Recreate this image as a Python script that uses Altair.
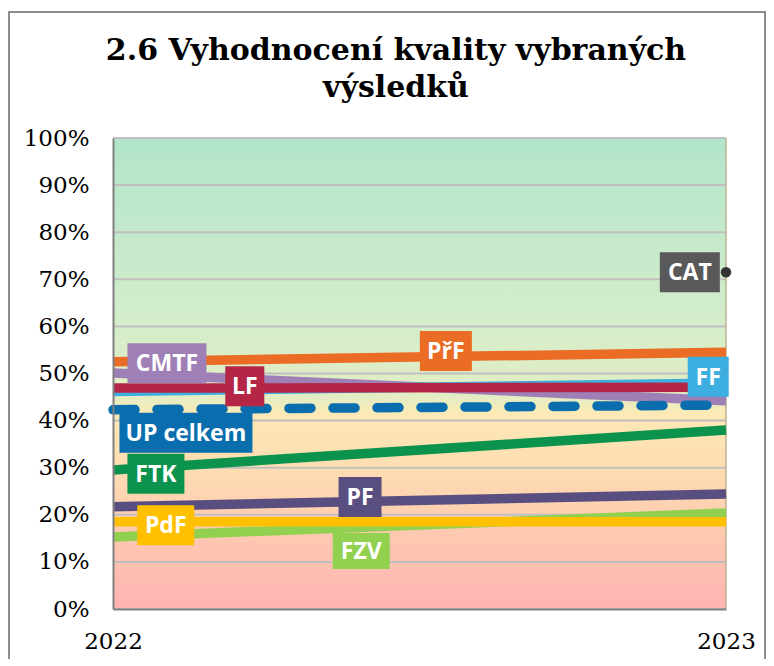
import altair as alt
import pandas as pd

# ---------------- data ----------------
years = [2022, 2023]
cmtf = [50.1, 44.2]
ff = [46.2, 48.0]
ftk = [29.5, 38.0]
fzv = [15.3, 20.4]
lf = [46.9, 47.1]
pdf_vals = [18.5, 18.5]
pf = [21.7, 24.4]
prf = [52.5, 54.5]
up_celkem = [42.3, 43.3]
cat_years = [2023]
cat_vals = [71.5]
y_ticks = [0, 10, 20, 30, 40, 50, 60, 70, 80, 90, 100]
x_ticks = [2022, 2023]
title_lines = ["2.6 Vyhodnocení kvality vybraných", "výsledků"]

# ---------------- styles ----------------
W, H = 613, 471
colors = {
    "CMTF": "#9F80B6", "FF": "#3DAEE0", "FTK": "#0B934D", "FZV": "#92D050",
    "LF": "#B52646", "PdF": "#FFC000", "PF": "#584F80", "PřF": "#EA6C25",
    "UP celkem": "#0A6EAE", "CAT": "#595959",
}
series = [("CMTF", cmtf), ("FF", ff), ("FTK", ftk), ("FZV", fzv), ("LF", lf),
          ("PdF", pdf_vals), ("PF", pf), ("PřF", prf), ("UP celkem", up_celkem)]

# label layout (anchor in axis units, box size in px)
label_layout = [
    ("CMTF", 2022.088, 52.2, 79, 40),
    ("LF", 2022.215, 47.3, 39, 40),
    ("UP celkem", 2022.119, 37.4, 133, 40),
    ("FTK", 2022.070, 28.7, 57, 40),
    ("PdF", 2022.086, 17.8, 57, 40),
    ("PF", 2022.403, 23.8, 43, 40),
    ("FZV", 2022.405, 12.3, 57, 36),
    ("PřF", 2022.543, 54.8, 52, 40),
    ("FF", 2022.971, 49.3, 41, 40),
    ("CAT", 2022.941, 71.5, 60, 40),
]

xs = alt.Scale(domain=[2022, 2023], nice=False, zero=False)
ys = alt.Scale(domain=[0, 100], nice=False, zero=False)
one = pd.DataFrame({"a": [0]})

layers = []

# outer frame
layers.append(
    alt.Chart(one).mark_rect(fillOpacity=0, stroke="#8C8C8C", strokeWidth=2).encode(
        x=alt.value(-104), x2=alt.value(652), y=alt.value(-126), y2=alt.value(560)
    )
)

# plot background gradient
grad = alt.Gradient(
    gradient="linear",
    stops=[
        alt.GradientStop(offset=0.0, color="#B2E5CA"),
        alt.GradientStop(offset=0.38, color="#D3EDCB"),
        alt.GradientStop(offset=0.55, color="#E3EDC4"),
        alt.GradientStop(offset=0.585, color="#FDE9B5"),
        alt.GradientStop(offset=0.70, color="#FEDDB2"),
        alt.GradientStop(offset=0.83, color="#FDCAB0"),
        alt.GradientStop(offset=1.0, color="#FFB3B3"),
    ],
    x1=0, y1=0, x2=0, y2=1,
)
layers.append(
    alt.Chart(one).mark_rect(fill=grad).encode(
        x=alt.value(0), x2=alt.value(W), y=alt.value(0), y2=alt.value(H)
    )
)

# gridlines
grid_df = pd.DataFrame({"value": y_ticks})
layers.append(
    alt.Chart(grid_df).mark_rule(color="#BFBFBF", strokeWidth=2).encode(
        y=alt.Y("value:Q", scale=ys), x=alt.value(0), x2=alt.value(W)
    )
)

# right plot border
layers.append(
    alt.Chart(one).mark_rule(color="#BDB38E", strokeWidth=1.5).encode(
        x=alt.value(W), y=alt.value(0), y2=alt.value(H)
    )
)

# series lines
first = True
for name, vals in series:
    df = pd.DataFrame({"year": years, "value": vals})
    if name == "UP celkem":
        mk = alt.Chart(df).mark_line(color=colors[name], strokeWidth=9.5,
                                     strokeDash=[22, 22], strokeCap="round")
    else:
        mk = alt.Chart(df).mark_line(color=colors[name], strokeWidth=9.5, strokeCap="butt")
    if first:
        xenc = alt.X("year:Q", scale=xs, axis=alt.Axis(
            values=x_ticks, format="d", title=None, grid=False, ticks=False,
            domain=True, domainColor="#808080", domainWidth=2,
            labelFont="DejaVu Serif", labelFontSize=23, labelColor="#000000",
            labelPadding=21, zindex=1, labelFlush=False))
        yenc = alt.Y("value:Q", scale=ys, axis=alt.Axis(
            values=y_ticks, labelExpr="datum.value + '%'", title=None, grid=False,
            ticks=False, domain=True, domainColor="#808080", domainWidth=2,
            labelFont="DejaVu Serif", labelFontSize=23, labelColor="#000000",
            labelPadding=24, zindex=1, labelFlush=False))
        first = False
    else:
        xenc = alt.X("year:Q", scale=xs)
        yenc = alt.Y("value:Q", scale=ys)
    layers.append(mk.encode(x=xenc, y=yenc))

# CAT point
cat_df = pd.DataFrame({"year": cat_years, "value": cat_vals})
layers.append(
    alt.Chart(cat_df).mark_circle(color="#333333", size=110, opacity=1).encode(
        x=alt.X("year:Q", scale=xs), y=alt.Y("value:Q", scale=ys)
    )
)

# label boxes + text
for name, lx, ly, bw, bh in label_layout:
    ldf = pd.DataFrame({"year": [lx], "value": [ly], "label": [name]})
    layers.append(
        alt.Chart(ldf).mark_rect(width=bw, height=bh, color=colors[name]).encode(
            x=alt.X("year:Q", scale=xs), y=alt.Y("value:Q", scale=ys)
        )
    )
    layers.append(
        alt.Chart(ldf).mark_text(color="white", font="Open Sans", fontWeight="bold",
                                 fontSize=23, align="center", baseline="middle", dy=1).encode(
            x=alt.X("year:Q", scale=xs), y=alt.Y("value:Q", scale=ys), text="label:N"
        )
    )

# title
for i, line in enumerate(title_lines):
    layers.append(
        alt.Chart(pd.DataFrame({"t": [line]})).mark_text(
            font="DejaVu Serif", fontWeight="bold", fontSize=30, color="#000000",
            align="center", baseline="alphabetic").encode(
            x=alt.value(283), y=alt.value(-78 + 37 * i), text="t:N")
    )

chart = alt.layer(*layers).properties(
    width=W, height=H,
    autosize=alt.AutoSizeParams(type="none"),
    padding={"left": 105, "top": 130, "right": 40, "bottom": 50},
).configure_view(strokeWidth=0)

chart.save("out.html", embed_options={"renderer": "svg", "actions": False})
